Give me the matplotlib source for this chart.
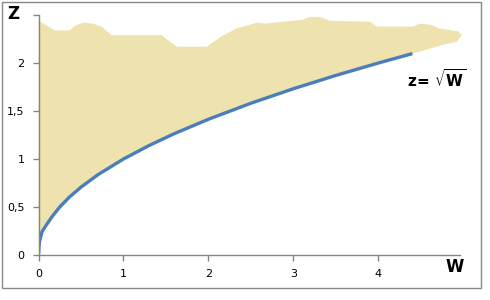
import matplotlib
matplotlib.use("Agg")
import matplotlib.pyplot as plt
from matplotlib.patches import Rectangle

plt.rcParams['font.family'] = ['DejaVu Sans']
plt.rcParams['mathtext.fontset'] = 'dejavusans'

# curve z = sqrt(w)
w_curve = [0, 0.01, 0.04, 0.09, 0.16, 0.25, 0.36, 0.5, 0.7, 1.0, 1.3, 1.6,
           2.0, 2.5, 3.0, 3.5, 4.0, 4.4]
z_curve = [0, 0.13, 0.24, 0.31, 0.40, 0.50, 0.60, 0.707, 0.837, 1.0, 1.14,
           1.265, 1.414, 1.581, 1.732, 1.871, 2.0, 2.098]

# irregular upper edge of the shaded area (left to right, then back down
# to the end of the curve)
w_top = [0, 0.08, 0.19, 0.37, 0.43, 0.53, 0.64, 0.74, 0.86, 1.45, 1.55, 1.63,
         1.98, 2.14, 2.33, 2.57, 2.68, 2.88, 3.11, 3.19, 3.31, 3.43, 3.90,
         3.98, 4.41, 4.49, 4.61, 4.72, 4.94, 4.98, 4.92, 4.76, 4.61, 4.49]
z_top = [2.44, 2.40, 2.34, 2.34, 2.39, 2.42, 2.41, 2.38, 2.29, 2.29, 2.22,
         2.17, 2.17, 2.27, 2.36, 2.42, 2.41, 2.43, 2.45, 2.48, 2.48, 2.44,
         2.43, 2.38, 2.38, 2.41, 2.40, 2.36, 2.33, 2.29, 2.22, 2.19, 2.15,
         2.12]

xticks = [0, 1, 2, 3, 4]
yticks = [0, 0.5, 1, 1.5, 2, 2.5]
ylabels = ['0', '0,5', '1', '1,5', '2', '']

fig = plt.figure(figsize=(4.9, 3.0), dpi=100)
ax = fig.add_axes([38.5 / 490, 45 / 300, (460 - 38.5) / 490, 240 / 300])

# shaded region: top edge, then the curve back to the origin
poly_w = w_top + w_curve[::-1]
poly_z = z_top + z_curve[::-1]
ax.fill(poly_w, poly_z, color='#eee2ae', lw=0, clip_on=False, zorder=1)

ax.plot(w_curve, z_curve, color='#4a7ebb', lw=2.4, solid_capstyle='butt',
        zorder=3)

ax.set_xlim(0, 4.96)
ax.set_ylim(0, 2.5)
ax.set_xticks(xticks)
ax.set_xticklabels([str(t) for t in xticks])
ax.set_yticks(yticks)
ax.set_yticklabels(ylabels)

for s in ['top', 'right']:
    ax.spines[s].set_visible(False)
for s in ['left', 'bottom']:
    ax.spines[s].set_color('#868686')
    ax.spines[s].set_linewidth(1)
    ax.spines[s].set_zorder(4)
ax.tick_params(direction='out', length=4, width=1, color='#868686',
               labelsize=8, pad=6)

ax.text(4.69, 1.83, r'$\mathbf{z\!=}\,\sqrt{\mathbf{W}}$', fontsize=11,
        ha='center', va='center', zorder=5)

fig.text(13 / 490, 1 - 14 / 300, 'Z', fontsize=12, fontweight='bold',
         ha='center', va='center')
fig.text(455 / 490, 1 - 267 / 300, 'W', fontsize=12, fontweight='bold',
         ha='center', va='center')

fig.patches.append(Rectangle((1.5 / 490, 12 / 300), 479.5 / 490, 286.5 / 300,
                             transform=fig.transFigure, fill=False,
                             edgecolor='#888888', lw=1))

fig.savefig('out.png', dpi=100)
